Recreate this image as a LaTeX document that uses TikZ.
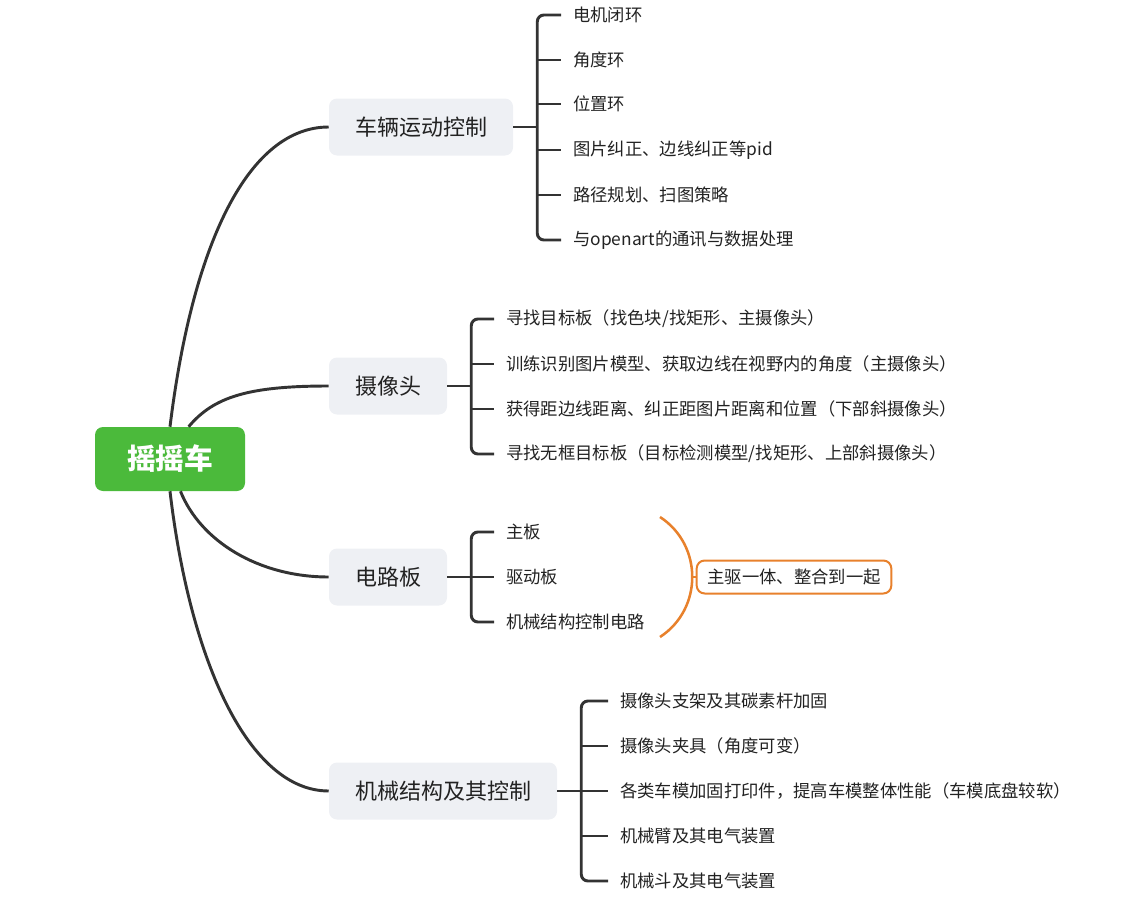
\documentclass[tikz,border=0pt]{standalone}
\usepackage{fontspec}
\setmainfont{Noto Sans CJK SC}
\usepackage{tikz}
\usepackage{xcolor}
\definecolor{linegray}{HTML}{333333}
\definecolor{textdark}{HTML}{222222}
\definecolor{rootgreen}{HTML}{4BBA3B}
\definecolor{branchgray}{HTML}{EEF0F4}
\definecolor{noteorange}{HTML}{E8812C}
\tikzset{
    root-box/.style = {fill=rootgreen, text=white, rounded corners=6pt, font=\fontsize{21.5}{24}\selectfont\bfseries, inner xsep=24pt, minimum height=48pt},
    branch-box/.style = {fill=branchgray, text=textdark, rounded corners=6pt, font=\fontsize{16.5}{20}\selectfont, inner xsep=19.5pt, minimum height=42.75pt},
    leaf/.style = {anchor=west, text=textdark, font=\fontsize{13}{16}\selectfont, inner xsep=9pt, inner ysep=2pt},
    note-box/.style = {draw=noteorange, line width=1.5pt, fill=white, rounded corners=6pt, text=textdark, font=\fontsize{13}{16}\selectfont, inner xsep=8pt, minimum height=24.75pt},
    link/.style = {draw=linegray, line width=2.2pt},
    bracket-line/.style = {draw=linegray, line width=2.2pt, rounded corners=5pt},
    note-line/.style = {draw=noteorange, line width=1.9pt},
}
\begin{document}
\begin{tikzpicture}[x=0.75pt, y=-0.75pt]
\useasboundingbox (0,0) rectangle (1133,903);

\node[root-box] (root) at (170,459) {摇摇车};
\node[branch-box] (motion) at (421,127) {车辆运动控制};
\node[branch-box] (camera) at (388,386) {摄像头};
\node[branch-box] (board) at (388,577) {电路板};
\node[branch-box] (mech) at (443,791) {机械结构及其控制};

\draw[link] (root.north) .. controls +(23,-187) and +(-79,0) .. (motion.west);
\draw[link] (root.60) .. controls +(25,-30) and +(-80,0) .. (camera.west);
\draw[link] (root.-72) .. controls +(20,50) and +(-70,0) .. (board.west);
\draw[link] (root.south) .. controls +(20,170) and +(-80,0) .. (mech.west);

\foreach \i/\y/\t in {1/15/{电机闭环}, 2/60/{角度环}, 3/104/{位置环}, 4/150/{图片纠正、边线纠正等pid}, 5/195/{路径规划、扫图策略}, 6/240/{与openart的通讯与数据处理}}
    \node[leaf] (motion-\i) at (561,\y) {\t};
\foreach \i/\y/\t in {1/319/{寻找目标板（找色块/找矩形、主摄像头）}, 2/364/{训练识别图片模型、获取边线在视野内的角度（主摄像头）}, 3/409/{获得距边线距离、纠正距图片距离和位置（下部斜摄像头）}, 4/454/{寻找无框目标板（目标检测模型/找矩形、上部斜摄像头）}}
    \node[leaf] (camera-\i) at (494,\y) {\t};
\foreach \i/\y/\t in {1/532/{主板}, 2/577/{驱动板}, 3/622/{机械结构控制电路}}
    \node[leaf] (board-\i) at (494,\y) {\t};
\foreach \i/\y/\t in {1/701/{摄像头支架及其碳素杆加固}, 2/746/{摄像头夹具（角度可变）}, 3/791/{各类车模加固打印件，提高车模整体性能（车模底盘较软）}, 4/836/{机械臂及其电气装置}, 5/881/{机械斗及其电气装置}}
    \node[leaf] (mech-\i) at (608,\y) {\t};

\path (motion.east) ++(24,0) coordinate (motion-spine);
\path (camera.east) ++(24,0) coordinate (camera-spine);
\path (board.east) ++(24,0) coordinate (board-spine);
\path (mech.east) ++(24,0) coordinate (mech-spine);

\draw[link] (motion.east) -- (motion-spine);
\draw[bracket-line] (motion-1.west) -| (motion-spine) |- (motion-6.west);
\foreach \i in {2,...,5}
    \draw[link] (motion-spine |- motion-\i.west) -- (motion-\i.west);

\draw[link] (camera.east) -- (camera-spine);
\draw[bracket-line] (camera-1.west) -| (camera-spine) |- (camera-4.west);
\foreach \i in {2,3}
    \draw[link] (camera-spine |- camera-\i.west) -- (camera-\i.west);

\draw[link] (board.east) -- (board-spine);
\draw[bracket-line] (board-1.west) -| (board-spine) |- (board-3.west);
\draw[link] (board-spine) -- (board-2.west);

\draw[link] (mech.east) -- (mech-spine);
\draw[bracket-line] (mech-1.west) -| (mech-spine) |- (mech-5.west);
\foreach \i in {2,...,4}
    \draw[link] (mech-spine |- mech-\i.west) -- (mech-\i.west);

\node[note-box] (note) at (794,577) {主驱一体、整合到一起};
\coordinate (brace-top) at (660,517);
\coordinate (brace-bot) at (660,637);
\coordinate (brace-mid) at (692,577);
\draw[note-line] (brace-top) .. controls (703,545) and (703,609) .. (brace-bot);
\draw[note-line] (brace-mid) -- (note.west);
\end{tikzpicture}
\end{document}
